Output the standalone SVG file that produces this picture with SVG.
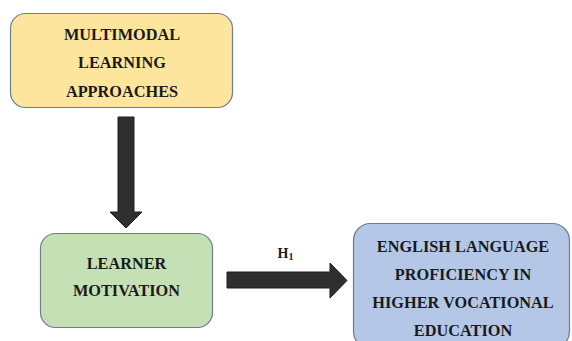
<svg xmlns="http://www.w3.org/2000/svg" width="572" height="341" viewBox="0 0 572 341">
<style>
.box{stroke:#6d7e8c;stroke-width:1.2}
.t{font-family:"Liberation Serif","Times New Roman",serif;font-weight:bold;font-size:16.3px;fill:#1a1a1a;text-anchor:middle}
.arr{fill:#2f2f2f;stroke:#1e1e1e;stroke-width:1}
</style>
<rect width="572" height="341" fill="#ffffff"/>
<g id="multimodal">
<rect class="box" x="10.5" y="13.5" width="222" height="94" rx="15" fill="#fde59e"/>
<text class="t" x="122" y="40">MULTIMODAL</text>
<text class="t" x="122" y="68">LEARNING</text>
<text class="t" x="122" y="96.5">APPROACHES</text>
</g>
<g id="motivation">
<rect class="box" x="40.5" y="233.5" width="172" height="94" rx="15" fill="#c6e0b5"/>
<text class="t" x="126.5" y="269">LEARNER</text>
<text class="t" x="126.5" y="296">MOTIVATION</text>
</g>
<g id="proficiency">
<rect class="box" x="353.5" y="223.5" width="216" height="125" rx="17" fill="#b4c7e7"/>
<text class="t" x="463" y="251.5">ENGLISH LANGUAGE</text>
<text class="t" x="463" y="280">PROFICIENCY IN</text>
<text class="t" x="463" y="308">HIGHER VOCATIONAL</text>
<text class="t" x="463" y="335.5">EDUCATION</text>
</g>
<g id="connectors">
<polygon class="arr" points="118,117 134,117 134,212 142,212 126,228 110,212 118,212"/>
<polygon class="arr" points="227,272 330,272 330,263 347,280.5 330,298 330,288 227,288"/>
<text x="277.5" y="257.5" font-family="Liberation Serif, serif" font-weight="bold" font-size="14" fill="#1a1a1a">H<tspan font-size="10" dy="2.5">1</tspan></text>
</g>
</svg>
